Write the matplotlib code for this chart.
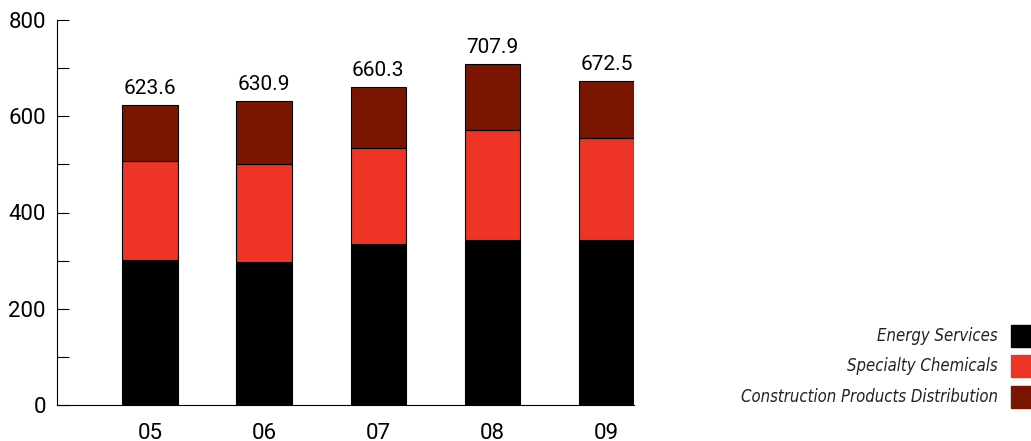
import matplotlib
matplotlib.use("Agg")
import matplotlib.pyplot as plt
from matplotlib.patches import Rectangle
import numpy as np

years = ["05", "06", "07", "08", "09"]
energy_services = [301.0, 297.0, 335.0, 343.0, 342.0]
specialty_chemicals = [205.0, 203.0, 198.0, 228.0, 212.0]
totals = [623.6, 630.9, 660.3, 707.9, 672.5]
construction_products = [t - e - s for t, e, s in zip(totals, energy_services, specialty_chemicals)]

series_names = ["Energy Services", "Specialty Chemicals", "Construction Products Distribution"]
colors = ["#000000", "#EE3424", "#7A1600"]

W, H = 1031, 441
fig = plt.figure(figsize=(W / 100, H / 100), dpi=100)
ax = fig.add_axes([57 / W, 1 - 405 / H, (634 - 57) / W, (405 - 20) / H])

x = np.arange(len(years))
width = 0.486
bottom = np.zeros(len(years))
for vals, col in zip([energy_services, specialty_chemicals, construction_products], colors):
    ax.bar(x, vals, width, bottom=bottom, color=col, edgecolor="#000000", linewidth=0.8)
    bottom += np.array(vals)

num_font = ["Roboto", "Liberation Sans"]
for xi, t in zip(x, totals):
    ax.annotate(f"{t:.1f}", (xi, t), xytext=(0, 5), textcoords="offset points",
                ha="center", va="bottom", fontsize=15, family=num_font)

ax.set_xlim(-0.815, 4.241)
ax.set_ylim(0, 800)
ax.set_yticks(np.arange(0, 801, 100))
ax.set_yticklabels([str(v) if v % 200 == 0 else "" for v in range(0, 801, 100)])
ax.tick_params(axis="y", direction="in", length=8.5, width=0.8, pad=8, labelsize=16)
ax.set_xticks(x)
ax.set_xticklabels(years)
ax.tick_params(axis="x", length=0, pad=13, labelsize=16)
for lab in ax.get_xticklabels() + ax.get_yticklabels():
    lab.set_family(num_font)
for s in ["top", "right"]:
    ax.spines[s].set_visible(False)
for s in ["left", "bottom"]:
    ax.spines[s].set_linewidth(0.8)

# legend drawn as swatches with right-aligned italic labels
sw_x0, sw_w, sw_h = 1011, 20, 22
sw_tops = [325, 355, 386]
for name, col, top in zip(series_names, colors, sw_tops):
    fig.patches.append(Rectangle((sw_x0 / W, 1 - (top + sw_h) / H), sw_w / W, sw_h / H,
                                 transform=fig.transFigure, color=col))
    fig.text(998 / W, 1 - (top + sw_h / 2) / H, name, ha="right", va="center",
             fontsize=12, style="italic", family="DejaVu Sans", fontstretch="condensed",
             color="#222222")

fig.savefig("out.png", dpi=100)
